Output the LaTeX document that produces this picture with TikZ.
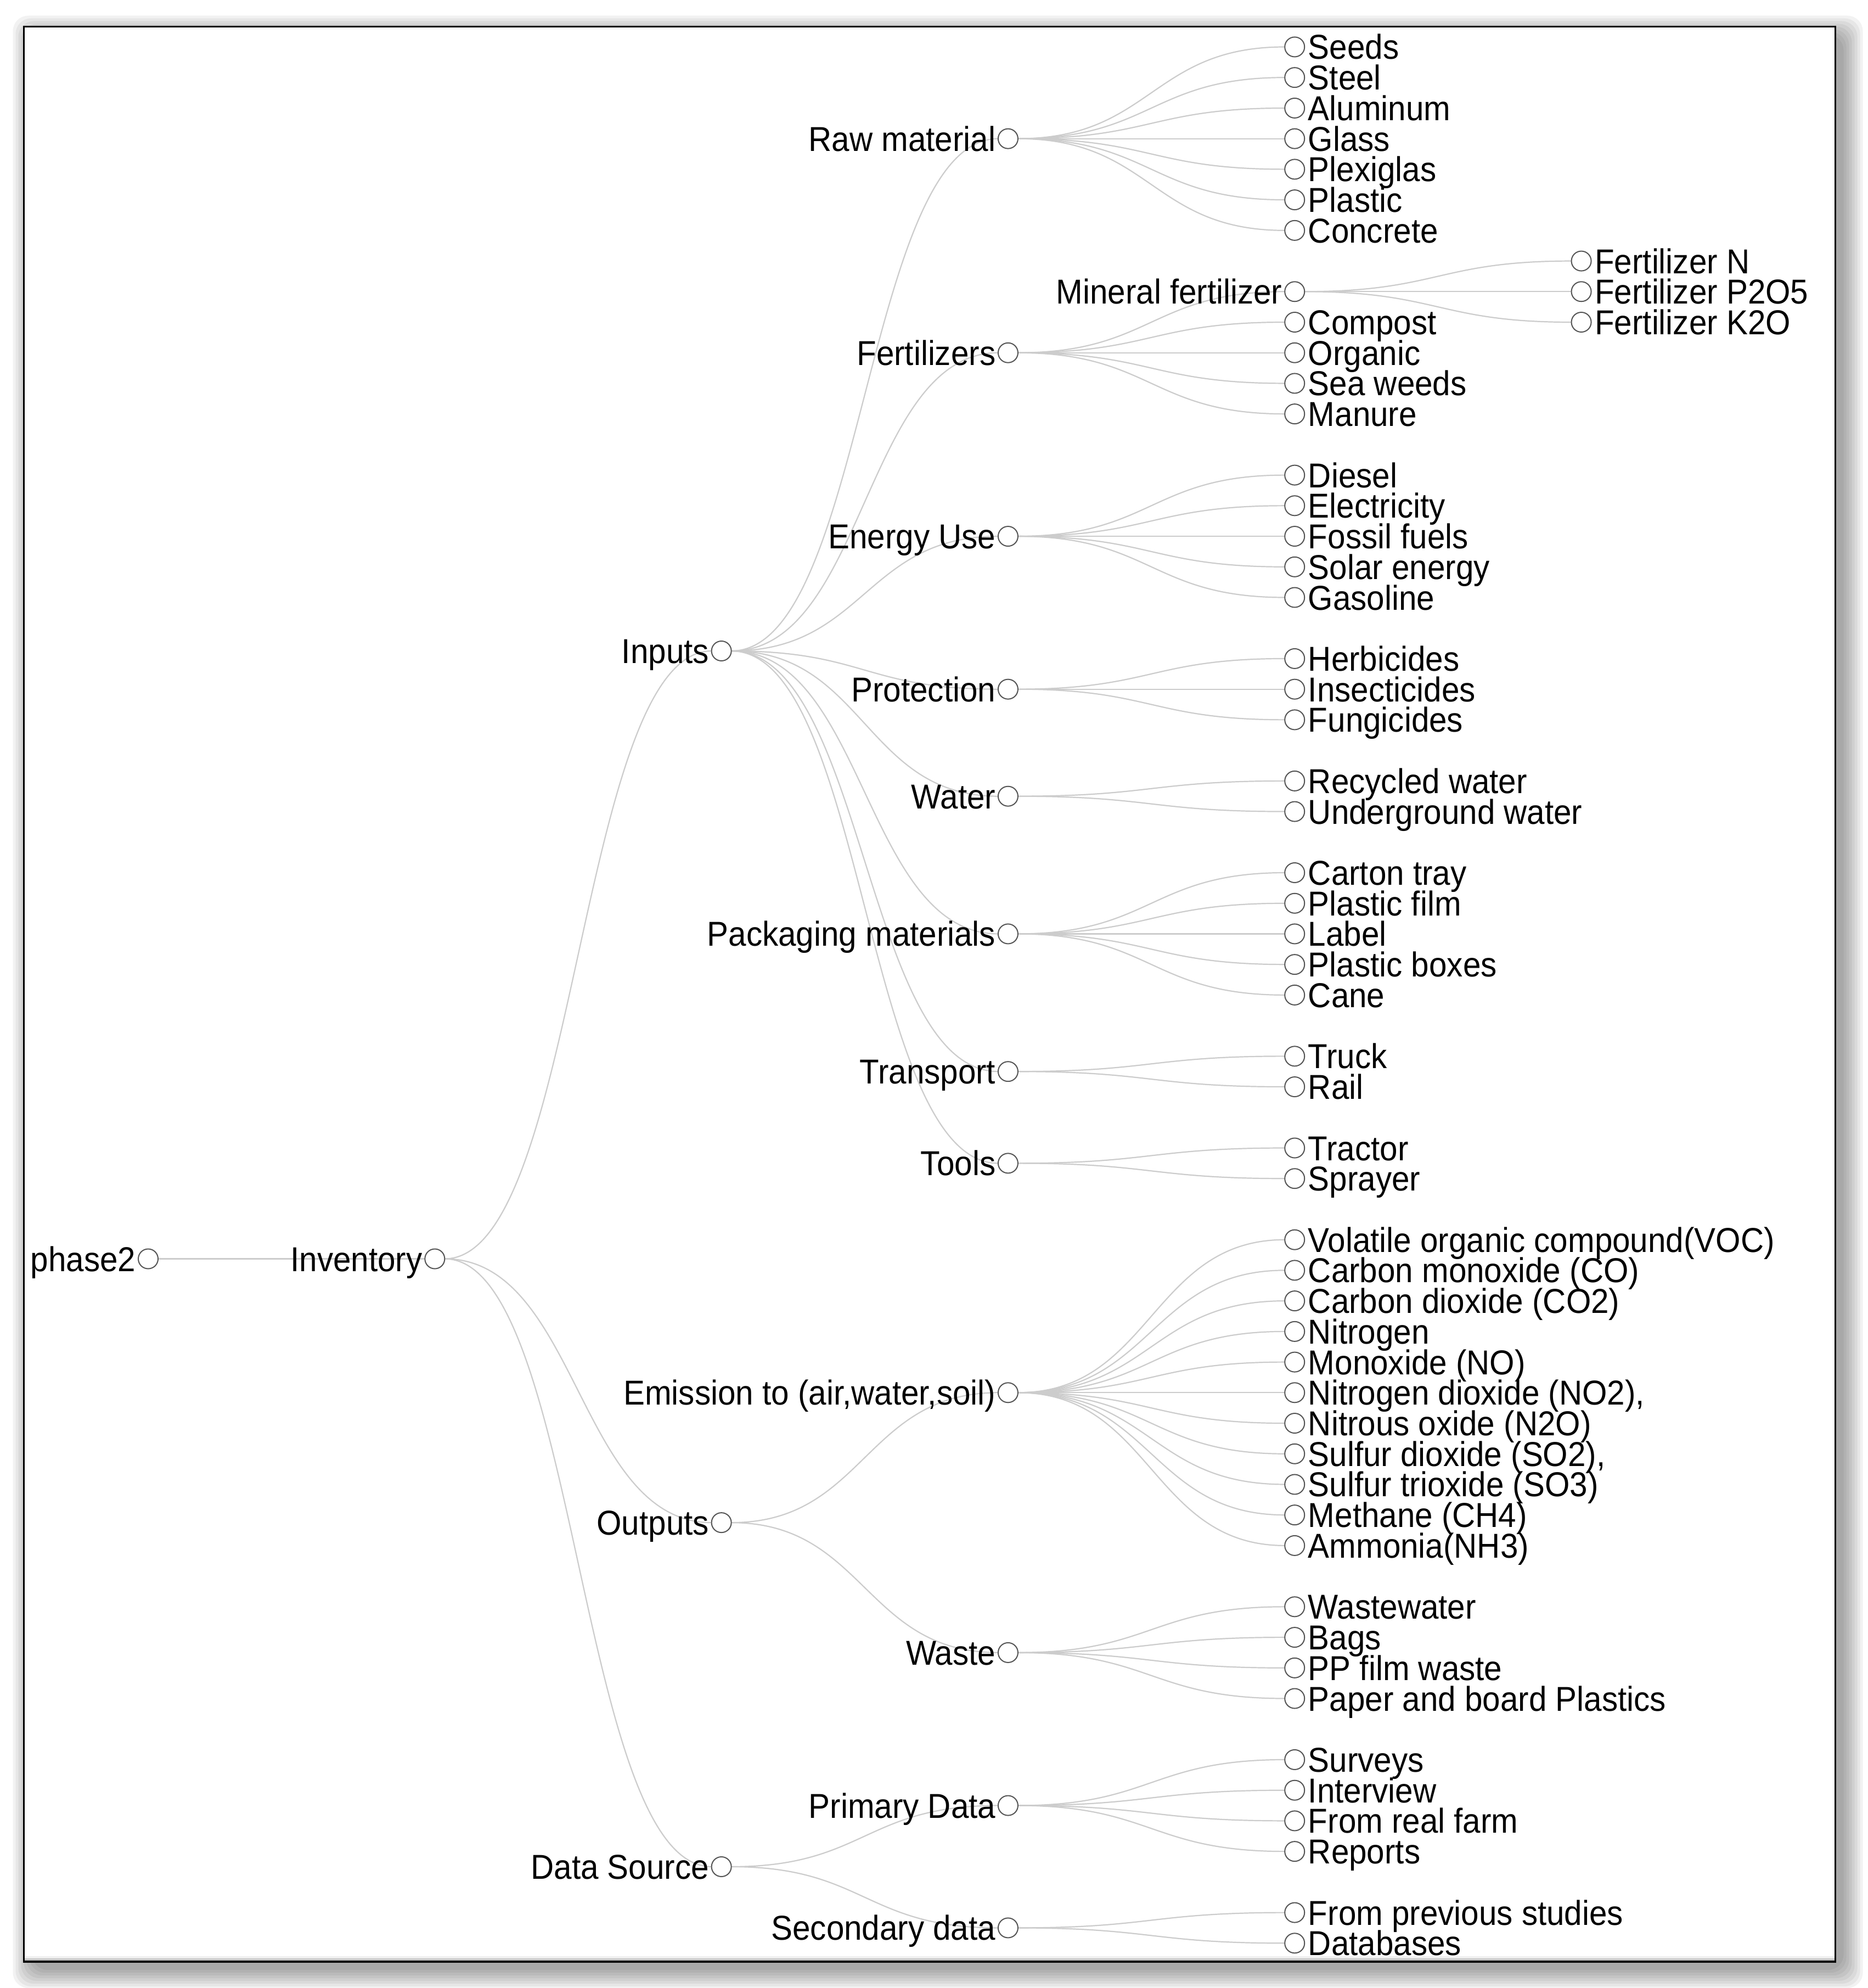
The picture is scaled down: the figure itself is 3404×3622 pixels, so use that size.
\documentclass[tikz,border=0pt]{standalone}
\usepackage{fontspec}
\setmainfont{Liberation Sans}[FakeStretch=0.927]
\usepackage{tikz}

\definecolor{linkgray}{HTML}{CCCCCC}
\definecolor{dotgray}{HTML}{555555}
\definecolor{bandlight}{HTML}{F0F0F0}
\definecolor{banddark}{HTML}{C8C8C8}

\pgfdeclarelayer{back}
\pgfdeclarelayer{links}
\pgfsetlayers{back,links,main}

\tikzset{
  dot/.style={circle, draw=dotgray, fill=white, line width=0.02cm, minimum size=0.36cm, inner sep=0pt, outer sep=0pt},
  txt/.style={font=\fontsize{17.9}{21}\selectfont, inner sep=0pt, text height=0.45cm, text depth=0pt},
  txtL/.style={txt, xshift=-0.04cm},
  txtR/.style={txt, xshift=0.06cm},
  link/.style={draw=linkgray, line width=0.022cm, to path={.. controls +(0.5,0) and +(-0.5,0) .. (\tikztotarget)}},
  frame/.style={draw=black, line width=0.032cm},
  shade/.style={fill=black, opacity=0.05, rounded corners=8pt}
}

\begin{document}
\begin{tikzpicture}[x=0.01cm, y=-0.01cm]
\useasboundingbox (0,0) rectangle (3404,3622);

% frame with its shadow
\begin{pgfonlayer}{back}
\fill[shade] (58.5,63.5) rectangle (3359.5,3589);
\fill[shade] (53.5,58.5) rectangle (3364.5,3594);
\fill[shade] (48.5,53.5) rectangle (3369.5,3599);
\fill[shade] (43.5,48.5) rectangle (3374.5,3604);
\fill[shade] (38.5,43.5) rectangle (3379.5,3609);
\fill[shade] (33.5,38.5) rectangle (3384.5,3614);
\fill[shade] (28.5,33.5) rectangle (3389.5,3619);
\fill[shade] (23.5,28.5) rectangle (3394.5,3622);
\fill[white] (43.5,48.5) rectangle (3344.5,3574);
\fill[bandlight] (45,3564) rectangle (3343,3568);
\fill[banddark] (45,3568) rectangle (3343,3572.5);
\draw[frame] (43.5,48.5) rectangle (3344.5,3574);
\end{pgfonlayer}

\begin{scope}[shift={(270,85.5)}, x=5.22cm, y=-0.5569cm]
% levels 0 to 2
\node[dot, label={[txtL]left:phase2}] (phase) at (0,39.625) {};
\node[dot, label={[txtL]left:Inventory}] (inv) at (1,39.625) {};
\node[dot, label={[txtL]left:Inputs}] (inputs) at (2,19.75) {};
\node[dot, label={[txtL]left:Outputs}] (outputs) at (2,48.25) {};
\node[dot, label={[txtL]left:Data Source}] (datasrc) at (2,59.5) {};

% level 3
\node[dot, label={[txtL]left:Raw material}] (raw) at (3,3) {};
\node[dot, label={[txtL]left:Fertilizers}] (fert) at (3,10) {};
\node[dot, label={[txtL]left:Energy Use}] (energy) at (3,16) {};
\node[dot, label={[txtL]left:Protection}] (protect) at (3,21) {};
\node[dot, label={[txtL]left:Water}] (water) at (3,24.5) {};
\node[dot, label={[txtL]left:Packaging materials}] (pack) at (3,29) {};
\node[dot, label={[txtL]left:Transport}] (transp) at (3,33.5) {};
\node[dot, label={[txtL]left:Tools}] (tools) at (3,36.5) {};
\node[dot, label={[txtL]left:{Emission to (air,water,soil)}}] (emis) at (3,44) {};
\node[dot, label={[txtL]left:Waste}] (waste) at (3,52.5) {};
\node[dot, label={[txtL]left:Primary Data}] (prim) at (3,57.5) {};
\node[dot, label={[txtL]left:Secondary data}] (second) at (3,61.5) {};

% level 4
\node[dot, label={[txtR]right:Seeds}] (seeds) at (4,0) {};
\node[dot, label={[txtR]right:Steel}] (steel) at (4,1) {};
\node[dot, label={[txtR]right:Aluminum}] (alu) at (4,2) {};
\node[dot, label={[txtR]right:Glass}] (glass) at (4,3) {};
\node[dot, label={[txtR]right:Plexiglas}] (plexi) at (4,4) {};
\node[dot, label={[txtR]right:Plastic}] (plastic) at (4,5) {};
\node[dot, label={[txtR]right:Concrete}] (concrete) at (4,6) {};
\node[dot, label={[txtL]left:Mineral fertilizer}] (mineral) at (4,8) {};
\node[dot, label={[txtR]right:Compost}] (compost) at (4,9) {};
\node[dot, label={[txtR]right:Organic}] (organic) at (4,10) {};
\node[dot, label={[txtR]right:Sea weeds}] (seaweeds) at (4,11) {};
\node[dot, label={[txtR]right:Manure}] (manure) at (4,12) {};
\node[dot, label={[txtR]right:Diesel}] (diesel) at (4,14) {};
\node[dot, label={[txtR]right:Electricity}] (elec) at (4,15) {};
\node[dot, label={[txtR]right:Fossil fuels}] (fossil) at (4,16) {};
\node[dot, label={[txtR]right:Solar energy}] (solar) at (4,17) {};
\node[dot, label={[txtR]right:Gasoline}] (gasoline) at (4,18) {};
\node[dot, label={[txtR]right:Herbicides}] (herb) at (4,20) {};
\node[dot, label={[txtR]right:Insecticides}] (insect) at (4,21) {};
\node[dot, label={[txtR]right:Fungicides}] (fung) at (4,22) {};
\node[dot, label={[txtR]right:Recycled water}] (recyc) at (4,24) {};
\node[dot, label={[txtR]right:Underground water}] (underg) at (4,25) {};
\node[dot, label={[txtR]right:Carton tray}] (carton) at (4,27) {};
\node[dot, label={[txtR]right:Plastic film}] (film) at (4,28) {};
\node[dot, label={[txtR]right:Label}] (label) at (4,29) {};
\node[dot, label={[txtR]right:Plastic boxes}] (boxes) at (4,30) {};
\node[dot, label={[txtR]right:Cane}] (cane) at (4,31) {};
\node[dot, label={[txtR]right:Truck}] (truck) at (4,33) {};
\node[dot, label={[txtR]right:Rail}] (rail) at (4,34) {};
\node[dot, label={[txtR]right:Tractor}] (tractor) at (4,36) {};
\node[dot, label={[txtR]right:Sprayer}] (sprayer) at (4,37) {};
\node[dot, label={[txtR]right:Volatile organic compound(VOC)}] (voc) at (4,39) {};
\node[dot, label={[txtR]right:Carbon monoxide (CO)}] (co) at (4,40) {};
\node[dot, label={[txtR]right:Carbon dioxide (CO2)}] (cotwo) at (4,41) {};
\node[dot, label={[txtR]right:Nitrogen}] (nitro) at (4,42) {};
\node[dot, label={[txtR]right:Monoxide (NO)}] (no) at (4,43) {};
\node[dot, label={[txtR]right:{Nitrogen dioxide (NO2),}}] (notwo) at (4,44) {};
\node[dot, label={[txtR]right:Nitrous oxide (N2O)}] (ntwoo) at (4,45) {};
\node[dot, label={[txtR]right:{Sulfur dioxide (SO2),}}] (sotwo) at (4,46) {};
\node[dot, label={[txtR]right:Sulfur trioxide (SO3)}] (sothree) at (4,47) {};
\node[dot, label={[txtR]right:Methane (CH4)}] (ch) at (4,48) {};
\node[dot, label={[txtR]right:Ammonia(NH3)}] (nh) at (4,49) {};
\node[dot, label={[txtR]right:Wastewater}] (wastew) at (4,51) {};
\node[dot, label={[txtR]right:Bags}] (bags) at (4,52) {};
\node[dot, label={[txtR]right:PP film waste}] (ppfilm) at (4,53) {};
\node[dot, label={[txtR]right:Paper and board Plastics}] (paper) at (4,54) {};
\node[dot, label={[txtR]right:Surveys}] (surveys) at (4,56) {};
\node[dot, label={[txtR]right:Interview}] (interview) at (4,57) {};
\node[dot, label={[txtR]right:From real farm}] (farm) at (4,58) {};
\node[dot, label={[txtR]right:Reports}] (reports) at (4,59) {};
\node[dot, label={[txtR]right:From previous studies}] (previous) at (4,61) {};
\node[dot, label={[txtR]right:Databases}] (databases) at (4,62) {};

% level 5
\node[dot, label={[txtR]right:Fertilizer N}] (fertn) at (5,7) {};
\node[dot, label={[txtR]right:Fertilizer P2O5}] (fertp) at (5,8) {};
\node[dot, label={[txtR]right:Fertilizer K2O}] (fertk) at (5,9) {};

% links
\begin{pgfonlayer}{links}
\draw[link] (phase) to (inv);
\draw[link] (inv) to (inputs);
\draw[link] (inv) to (outputs);
\draw[link] (inv) to (datasrc);
\draw[link] (inputs) to (raw);
\draw[link] (inputs) to (fert);
\draw[link] (inputs) to (energy);
\draw[link] (inputs) to (protect);
\draw[link] (inputs) to (water);
\draw[link] (inputs) to (pack);
\draw[link] (inputs) to (transp);
\draw[link] (inputs) to (tools);
\draw[link] (outputs) to (emis);
\draw[link] (outputs) to (waste);
\draw[link] (datasrc) to (prim);
\draw[link] (datasrc) to (second);
\draw[link] (raw) to (seeds);
\draw[link] (raw) to (steel);
\draw[link] (raw) to (alu);
\draw[link] (raw) to (glass);
\draw[link] (raw) to (plexi);
\draw[link] (raw) to (plastic);
\draw[link] (raw) to (concrete);
\draw[link] (fert) to (mineral);
\draw[link] (fert) to (compost);
\draw[link] (fert) to (organic);
\draw[link] (fert) to (seaweeds);
\draw[link] (fert) to (manure);
\draw[link] (mineral) to (fertn);
\draw[link] (mineral) to (fertp);
\draw[link] (mineral) to (fertk);
\draw[link] (energy) to (diesel);
\draw[link] (energy) to (elec);
\draw[link] (energy) to (fossil);
\draw[link] (energy) to (solar);
\draw[link] (energy) to (gasoline);
\draw[link] (protect) to (herb);
\draw[link] (protect) to (insect);
\draw[link] (protect) to (fung);
\draw[link] (water) to (recyc);
\draw[link] (water) to (underg);
\draw[link] (pack) to (carton);
\draw[link] (pack) to (film);
\draw[link] (pack) to (label);
\draw[link] (pack) to (boxes);
\draw[link] (pack) to (cane);
\draw[link] (transp) to (truck);
\draw[link] (transp) to (rail);
\draw[link] (tools) to (tractor);
\draw[link] (tools) to (sprayer);
\draw[link] (emis) to (voc);
\draw[link] (emis) to (co);
\draw[link] (emis) to (cotwo);
\draw[link] (emis) to (nitro);
\draw[link] (emis) to (no);
\draw[link] (emis) to (notwo);
\draw[link] (emis) to (ntwoo);
\draw[link] (emis) to (sotwo);
\draw[link] (emis) to (sothree);
\draw[link] (emis) to (ch);
\draw[link] (emis) to (nh);
\draw[link] (waste) to (wastew);
\draw[link] (waste) to (bags);
\draw[link] (waste) to (ppfilm);
\draw[link] (waste) to (paper);
\draw[link] (prim) to (surveys);
\draw[link] (prim) to (interview);
\draw[link] (prim) to (farm);
\draw[link] (prim) to (reports);
\draw[link] (second) to (previous);
\draw[link] (second) to (databases);
\end{pgfonlayer}
\end{scope}
\end{tikzpicture}
\end{document}
